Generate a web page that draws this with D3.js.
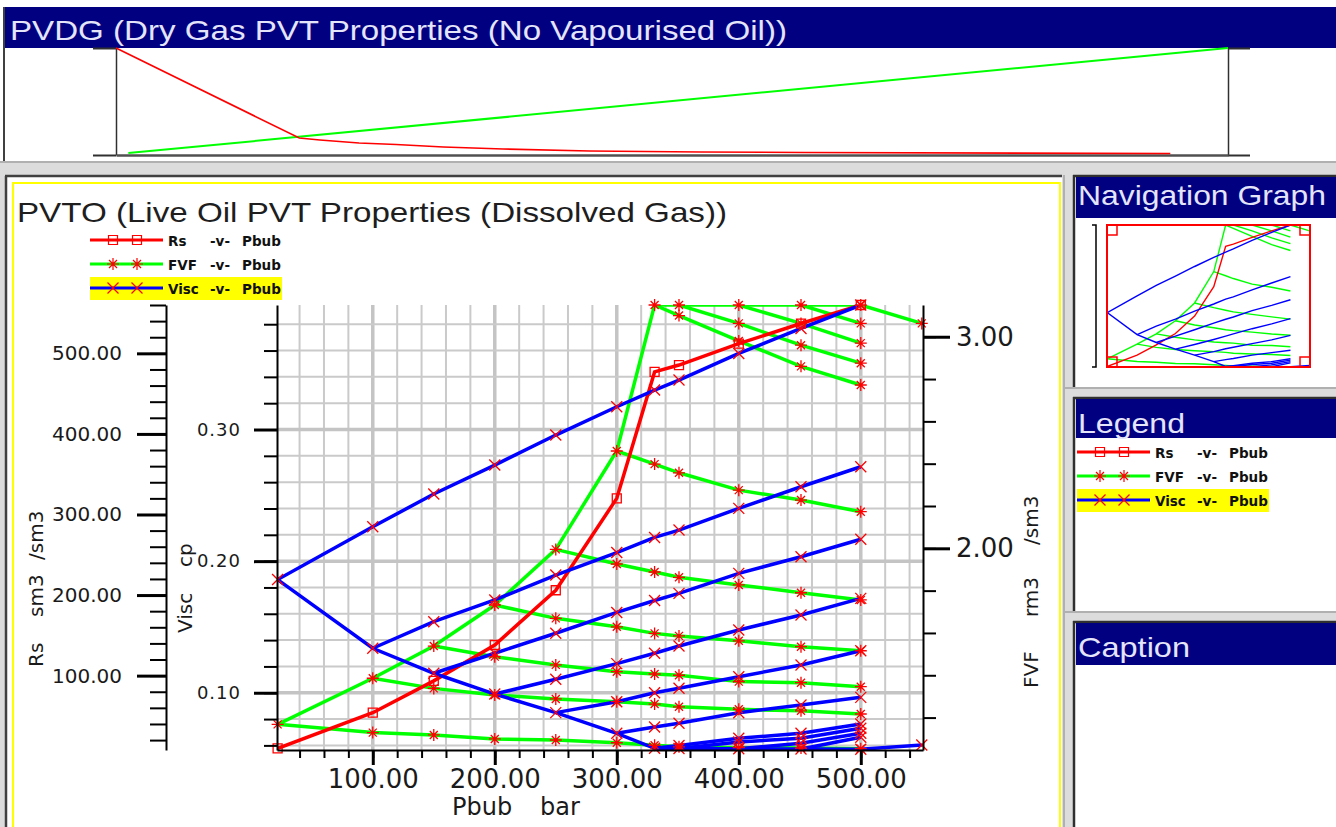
<!DOCTYPE html>
<html>
<head>
<meta charset="utf-8">
<title>PVT tables</title>
<script src="https://d3js.org/d3.v7.min.js"></script>
<style>
body{margin:0;background:#dcdcdc;overflow:hidden}
svg{display:block}
</style>
</head>
<body>
<svg id="chart"></svg>
<script>
/* PVTO saturated table : Rs, FVF and viscosity at bubble point */
const pbub    = [22, 100, 150, 200, 250, 300, 331, 351, 400, 451, 500]
const rs      = [9.6, 54, 93.5, 138, 206, 320, 477, 485.5, 512, 537, 560]
const fvfSat  = [1.168, 1.386, 1.538, 1.732, 1.995, 2.46, 3.15, 3.15, 3.15, 3.15, 3.15]
const viscSat = [0.186, 0.1338, 0.1148, 0.099, 0.0849, 0.0692, 0.0578, 0.0576, 0.0574, 0.0572, 0.0571]

/* undersaturated pressures, branch i starts at pUnder[i] */
const pUnder = [100, 150, 200, 250, 300, 331, 351, 400, 451, 500, 550]

const fvfUnder = [
    [1.129, 1.118, 1.099, 1.094, 1.081, 1.069, 1.062, 1.058, 1.056, 1.053],
    [1.338, 1.307, 1.288, 1.275, 1.264, 1.251, 1.239, 1.232, 1.217],
    [1.488, 1.449, 1.417, 1.406, 1.400, 1.370, 1.365, 1.346],
    [1.669, 1.629, 1.598, 1.586, 1.563, 1.535, 1.516],
    [1.926, 1.888, 1.863, 1.827, 1.790, 1.756],
    [2.398, 2.357, 2.275, 2.228, 2.173],
    [3.100, 2.980, 2.860, 2.772],
    [3.063, 2.960, 2.875],
    [3.063, 2.970],
    [3.063],
    [3.063]
]
const viscUnder = [
    [0.2261, 0.251, 0.273, 0.2958, 0.3173, 0.33, 0.3376, 0.3578, 0.3768, 0.3946],
    [0.154, 0.1705, 0.1894, 0.2065, 0.218, 0.2236, 0.2401, 0.2565, 0.2717],
    [0.13, 0.1452, 0.161, 0.1701, 0.1755, 0.1907, 0.2033, 0.2166],
    [0.1102, 0.1221, 0.13, 0.1355, 0.1477, 0.1591, 0.1717],
    [0.0932, 0.1, 0.1034, 0.1122, 0.1211, 0.1319],
    [0.074, 0.0768, 0.0848, 0.0907, 0.0965],
    [0.0599, 0.0654, 0.0692, 0.0763],
    [0.0626, 0.0654, 0.073],
    [0.0616, 0.0692],
    [0.0662],
    [0.0603]
]

/* PVDG table */
const pvdgPress     = [20, 109, 119, 138, 156, 179, 208, 250, 304, 354, 532]
const pvdgBg        = [0.06, 0.00953, 0.00841, 0.00673, 0.00589, 0.00449, 0.00336, 0.00224, 0.00168, 0.0014, 0.00084]
const pvdgViscPress = [26, 560]
const pvdgVisc      = [0.0129, 0.035]

/* ticks and legend */
const pbubTicks = [100, 200, 300, 400, 500]
const rsTicks   = [100, 200, 300, 400, 500]
const viscTicks = [0.1, 0.2, 0.3]
const fvfTicks  = [2, 3]
const legendNames  = ['Rs', 'FVF', 'Visc']
const legendColors = ['#ff0000', '#00ff00', '#0000ff']
const legendMarks  = ['square', 'star', 'cross']

const width = 1336, height = 827
const bodyFont = '"DejaVu Sans", sans-serif'
const headFont = '"Liberation Sans", Arial, sans-serif'
const svg = d3.select('#chart').attr('width', width).attr('height', height)

const plot = {left: 277, right: 923, top: 305, bottom: 750}
const nav  = {left: 1107, right: 1310, top: 225, bottom: 367}

let xScale, rsScale, viscScale, fvfScale

const markerPath = {
    square: 'M-4.5,-4.5H4.5V4.5H-4.5Z',
    star: 'M0,-6V6M-6,0H6M-4,-4L4,4M-4,4L4,-4',
    cross: 'M-5.5,-5.5L5.5,5.5M-5.5,5.5L5.5,-5.5'
}

/* curves built from the tables */
const rsCurve   = pbub.map((p, i) => [p, rs[i]])
const fvfCurve  = pbub.map((p, i) => [p, fvfSat[i]])
const viscCurve = pbub.map((p, i) => [p, viscSat[i]])
const fvfBranches = fvfUnder.map((vals, i) =>
    [[pbub[i], fvfSat[i]]].concat(vals.map((v, k) => [pUnder[i + k], v])))
const viscBranches = viscUnder.map((vals, i) =>
    [[pbub[i], viscSat[i]]].concat(vals.map((v, k) => [pUnder[i + k], v])))

const box = (x, y, w, h, fill) =>
    svg.append('rect').attr('x', x).attr('y', y).attr('width', w).attr('height', h).attr('fill', fill)

const rule = (x1, y1, x2, y2, color, w) =>
    svg.append('line').attr('x1', x1).attr('y1', y1).attr('x2', x2).attr('y2', y2)
        .attr('stroke', color).attr('stroke-width', w)

const header = (x, y, w, h, label, tx, ty, len) => {
    box(x, y, w, h, '#000080')
    svg.append('text')
        .attr('x', tx).attr('y', ty)
        .attr('font-family', headFont).attr('font-size', 28)
        .attr('fill', '#e4e4fa')
        .attr('textLength', len).attr('lengthAdjust', 'spacingAndGlyphs')
        .text(label)
}

/* window frames */
const drawFrames = () => {
    box(0, 0, width, height, '#dcdcdc')
    box(0, 0, width, 161, '#ffffff')
    rule(4, 7, 4, 161, '#404040', 2)
    header(5, 7, width - 5, 41, 'PVDG (Dry Gas PVT Properties (No Vapourised Oil))', 10, 40, 777)
    rule(0, 162, width, 162, '#b0b0b0', 2)

    box(5, 175, 1057, height - 175, '#ffffff')
    rule(5, 176, 1062, 176, '#404040', 2.5)
    rule(6, 176, 6, height, '#404040', 2.5)
    svg.append('rect').attr('x', 13).attr('y', 183).attr('width', 1047).attr('height', 700)
        .attr('fill', 'none').attr('stroke', '#ffff00').attr('stroke-width', 2)
    rule(1064, 175, 1064, height, '#b0b0b0', 2)

    const panels = [
        [175, 387, 'Navigation Graph', 205, 248, 41],
        [397, 611, 'Legend', 433, 107, 39],
        [621, height, 'Caption', 657, 112, 42]
    ]
    panels.forEach(p => {
        box(1073, p[0], width - 1073, p[1] - p[0], '#ffffff')
        rule(1074, p[0], 1074, p[1], '#303030', 2.5)
        rule(1073, p[0] + 1, width, p[0] + 1, '#303030', 2.5)
        header(1076, p[0] + 2, width - 1076, p[5], p[2], 1078, p[3], p[4])
    })
    rule(1064, 388, width, 388, '#b0b0b0', 2)
    rule(1064, 612, width, 612, '#b0b0b0', 2)
}

/* PVDG small chart */
const drawPvdg = () => {
    const px = d3.scaleLinear().domain([20, 560]).range([116, 1228])
    const bgScale = d3.scaleLinear().domain([0, 0.06]).range([155, 48])
    const gvScale = d3.scaleLinear().domain([0.0125, 0.035]).range([155, 48])

    const left = svg.append('g').attr('transform', 'translate(116,0)')
        .call(d3.axisLeft(bgScale).tickValues(bgScale.domain()).tickSize(23).tickSizeOuter(0).tickFormat(''))
    const right = svg.append('g').attr('transform', 'translate(1228,0)')
        .call(d3.axisRight(gvScale).tickValues(gvScale.domain()).tickSize(22).tickSizeOuter(0).tickFormat(''))
    const bottom = svg.append('g').attr('transform', 'translate(0,155)')
        .call(d3.axisBottom(px).tickValues([]).tickSizeOuter(0))
    ;[left, right, bottom].forEach(g => {
        g.selectAll('path, line').attr('stroke', '#303030').attr('stroke-width', 1.5)
    })
    bottom.select('.domain').attr('stroke', '#505050').attr('stroke-width', 2.5)
    left.selectAll('line').attr('stroke-width', 2)
    right.selectAll('line').attr('stroke-width', 2)

    svg.append('path')
        .datum(pvdgViscPress.map((p, i) => [p, pvdgVisc[i]]))
        .attr('d', d3.line().x(d => px(d[0])).y(d => gvScale(d[1])))
        .attr('fill', 'none').attr('stroke', '#00ff00').attr('stroke-width', 2)
    svg.append('path')
        .datum(pvdgPress.map((p, i) => [p, pvdgBg[i]]))
        .attr('d', d3.line().x(d => px(d[0])).y(d => bgScale(d[1])))
        .attr('fill', 'none').attr('stroke', '#ff0000').attr('stroke-width', 1.6)
}

const propertyScales = () => {
    xScale    = d3.scaleLinear().domain([21.5, 551]).range([plot.left, plot.right])
    rsScale   = d3.scaleLinear().domain([7.7, 560]).range([plot.bottom, plot.top])
    viscScale = d3.scaleLinear().domain([0.0565, 0.3946]).range([plot.bottom, plot.top])
    fvfScale  = d3.scaleLinear().domain([1.0468, 3.15]).range([plot.bottom, plot.top])
}

const drawGrid = () => {
    const g = svg.append('g')
    g.selectAll('line.v').data(d3.range(40, 541, 20)).enter().append('line')
        .attr('class', 'v')
        .attr('x1', d => xScale(d)).attr('x2', d => xScale(d))
        .attr('y1', plot.top).attr('y2', plot.bottom)
        .attr('stroke', d => d % 100 === 0 ? '#c4c4c4' : '#cacaca')
        .attr('stroke-width', d => d % 100 === 0 ? 3.5 : 2)
    g.selectAll('line.h').data(d3.range(3, 20)).enter().append('line')
        .attr('class', 'h')
        .attr('y1', d => viscScale(d * 0.02)).attr('y2', d => viscScale(d * 0.02))
        .attr('x1', plot.left).attr('x2', plot.right)
        .attr('stroke', d => d % 5 === 0 ? '#c4c4c4' : '#cacaca')
        .attr('stroke-width', d => d % 5 === 0 ? 3.5 : 2)
}

/* draws green, red then blue curves with given scales */
const drawSeries = (g, xs, ysRs, ysFvf, ysVisc, lw) => {
    const lineOf = ys => d3.line().x(d => xs(d[0])).y(d => ys(d[1]))
    g.selectAll('path.fvf').data([fvfCurve].concat(fvfBranches)).enter().append('path')
        .attr('class', 'fvf').attr('d', lineOf(ysFvf))
        .attr('fill', 'none').attr('stroke', '#00ff00').attr('stroke-width', lw)
    g.append('path').datum(rsCurve).attr('d', lineOf(ysRs))
        .attr('fill', 'none').attr('stroke', '#ff0000').attr('stroke-width', lw)
    g.selectAll('path.visc').data([viscCurve].concat(viscBranches)).enter().append('path')
        .attr('class', 'visc').attr('d', lineOf(ysVisc))
        .attr('fill', 'none').attr('stroke', '#0000ff').attr('stroke-width', lw)
}

const drawMarkers = (pts, ys, shape) => {
    svg.append('g').selectAll('path').data(pts).enter().append('path')
        .attr('transform', d => 'translate(' + xScale(d[0]) + ',' + ys(d[1]) + ')')
        .attr('d', markerPath[shape])
        .attr('fill', 'none').attr('stroke', '#ff0000').attr('stroke-width', 1.3)
}

const drawPlot = () => {
    svg.append('clipPath').attr('id', 'plotClip').append('rect')
        .attr('x', plot.left).attr('y', plot.top)
        .attr('width', plot.right - plot.left).attr('height', plot.bottom - plot.top)
    const g = svg.append('g').attr('clip-path', 'url(#plotClip)')
    drawSeries(g, xScale, rsScale, fvfScale, viscScale, 3.5)

    drawMarkers(d3.merge([fvfCurve].concat(fvfBranches.map(b => b.slice(1)))), fvfScale, 'star')
    drawMarkers(rsCurve, rsScale, 'square')
    drawMarkers(d3.merge([viscCurve].concat(viscBranches.map(b => b.slice(1)))), viscScale, 'cross')
}

/* axis pair: minor ticks then major ticks with labels */
const styleAxis = (g, size, width) => {
    g.attr('font-family', bodyFont).attr('font-size', size).attr('fill', '#1a1a1a')
    g.select('.domain').attr('stroke', '#000').attr('stroke-width', 2)
    g.selectAll('.tick line').attr('stroke', '#000').attr('stroke-width', width)
    g.selectAll('.tick text').attr('fill', '#1a1a1a')
}

const createAxes = () => {
    const fmt = d3.format('.2f')

    // Rs
    const rsMinor = svg.append('g').attr('transform', 'translate(166,0)')
        .call(d3.axisLeft(rsScale).tickValues(d3.range(20, 561, 20)).tickSize(16).tickSizeOuter(0).tickFormat(''))
    styleAxis(rsMinor, 20, 2)
    const rsMajor = svg.append('g').attr('transform', 'translate(166,0)')
        .call(d3.axisLeft(rsScale).tickValues(rsTicks).tickSize(29).tickSizeOuter(0).tickPadding(15).tickFormat(fmt))
    styleAxis(rsMajor, 20, 3)
    rsMajor.select('.domain').remove()

    // Visc
    const viscMinor = svg.append('g').attr('transform', 'translate(' + plot.left + ',0)')
        .call(d3.axisLeft(viscScale).tickValues(d3.range(3, 20).map(k => k * 0.02)).tickSize(13).tickSizeOuter(0).tickFormat(''))
    styleAxis(viscMinor, 18, 2)
    const viscMajor = svg.append('g').attr('transform', 'translate(' + plot.left + ',0)')
        .call(d3.axisLeft(viscScale).tickValues(viscTicks).tickSize(23).tickSizeOuter(0).tickPadding(13).tickFormat(fmt))
    styleAxis(viscMajor, 18, 3)
    viscMajor.selectAll('text').attr('letter-spacing', 1)
    viscMajor.select('.domain').remove()

    // FVF
    const fvfMinor = svg.append('g').attr('transform', 'translate(' + plot.right + ',0)')
        .call(d3.axisRight(fvfScale).tickValues(d3.range(6, 16).map(k => k * 0.2)).tickSize(13).tickSizeOuter(0).tickFormat(''))
    styleAxis(fvfMinor, 26, 2)
    const fvfMajor = svg.append('g').attr('transform', 'translate(' + plot.right + ',0)')
        .call(d3.axisRight(fvfScale).tickValues(fvfTicks).tickSize(27).tickSizeOuter(0).tickPadding(6).tickFormat(fmt))
    styleAxis(fvfMajor, 26, 3)
    fvfMajor.select('.domain').remove()

    // Pbub
    const xMinor = svg.append('g').attr('transform', 'translate(0,' + plot.bottom + ')')
        .call(d3.axisBottom(xScale).tickValues(d3.range(40, 541, 20)).tickSize(8).tickSizeOuter(0).tickFormat(''))
    styleAxis(xMinor, 26, 2)
    const xMajor = svg.append('g').attr('transform', 'translate(0,' + plot.bottom + ')')
        .call(d3.axisBottom(xScale).tickValues(pbubTicks).tickSize(15).tickSizeOuter(0).tickFormat(fmt))
    styleAxis(xMajor, 26, 3)
    xMajor.selectAll('text').attr('y', 38).attr('dy', 0)
    xMajor.select('.domain').remove()
}

/* axis titles, words placed one by one */
const nameAxes = () => {
    const word = (x, y, txt, size, rotate) => svg.append('text')
        .attr('transform', 'translate(' + x + ',' + y + ')' + (rotate ? ' rotate(-90)' : ''))
        .attr('font-family', bodyFont).attr('font-size', size).attr('fill', '#1a1a1a')
        .text(txt)

    word(43, 667, 'Rs', 20, true)
    word(43, 617, 'sm3', 20, true)
    word(43, 560, '/sm3', 20, true)

    word(192, 633, 'Visc', 20, true)
    word(192, 567, 'cp', 20, true)

    word(1038, 688, 'FVF', 20, true)
    word(1038, 617, 'rm3', 20, true)
    word(1038, 545, '/sm3', 20, true)

    word(452, 815, 'Pbub', 24, false)
    word(540, 815, 'bar', 24, false)

    svg.append('text')
        .attr('x', 17).attr('y', 222)
        .attr('font-family', headFont).attr('font-size', 28).attr('fill', '#1e1e1e')
        .attr('textLength', 710).attr('lengthAdjust', 'spacingAndGlyphs')
        .text('PVTO (Live Oil PVT Properties (Dissolved Gas))')
}

const createLegend = (ox, oy) => {
    const g = svg.append('g').attr('transform', 'translate(' + ox + ',' + oy + ')')
    g.append('rect').attr('x', 0).attr('y', 37).attr('width', 192).attr('height', 23).attr('fill', '#ffff00')
    legendNames.forEach((name, i) => {
        const y = i * 24
        g.append('line').attr('x1', 0).attr('x2', 73).attr('y1', y).attr('y2', y)
            .attr('stroke', legendColors[i]).attr('stroke-width', 3)
        ;[23, 47].forEach(mx => {
            g.append('path').attr('transform', 'translate(' + mx + ',' + y + ')')
                .attr('d', markerPath[legendMarks[i]])
                .attr('fill', 'none').attr('stroke', '#ff0000').attr('stroke-width', 1.2)
        })
        ;[[78, name], [120, '-v-'], [152, 'Pbub']].forEach(t => {
            g.append('text').attr('x', t[0]).attr('y', y + 5.5)
                .attr('font-family', bodyFont).attr('font-size', 13.5).attr('font-weight', 'bold')
                .attr('fill', '#111')
                .text(t[1])
        })
    })
}

/* navigation thumbnail */
const drawNav = () => {
    svg.append('clipPath').attr('id', 'navClip').append('rect')
        .attr('x', nav.left).attr('y', nav.top)
        .attr('width', nav.right - nav.left).attr('height', nav.bottom - nav.top)
    const g = svg.append('g').attr('clip-path', 'url(#navClip)')
    drawSeries(g,
        xScale.copy().range([nav.left, nav.right]),
        rsScale.copy().range([nav.bottom, nav.top]),
        fvfScale.copy().range([nav.bottom, nav.top]),
        viscScale.copy().range([nav.bottom, nav.top]),
        1.4)

    svg.append('rect').attr('x', nav.left).attr('y', nav.top)
        .attr('width', nav.right - nav.left).attr('height', nav.bottom - nav.top)
        .attr('fill', 'none').attr('stroke', '#ff0000').attr('stroke-width', 2)
    ;[[nav.left, nav.top], [nav.right - 10, nav.top], [nav.left, nav.bottom - 10], [nav.right - 10, nav.bottom - 10]]
        .forEach(c => {
            svg.append('rect').attr('x', c[0]).attr('y', c[1]).attr('width', 10).attr('height', 10)
                .attr('fill', 'none').attr('stroke', '#ff0000').attr('stroke-width', 1.5)
        })
    svg.append('path').attr('d', 'M1092,' + nav.top + 'H1096V' + nav.bottom + 'H1092')
        .attr('fill', 'none').attr('stroke', '#000').attr('stroke-width', 1.5)
}

drawFrames()
drawPvdg()
propertyScales()
drawGrid()
drawPlot()
createAxes()
nameAxes()
createLegend(90, 240)
createLegend(1077, 452)
drawNav()
</script>
</body>
</html>
